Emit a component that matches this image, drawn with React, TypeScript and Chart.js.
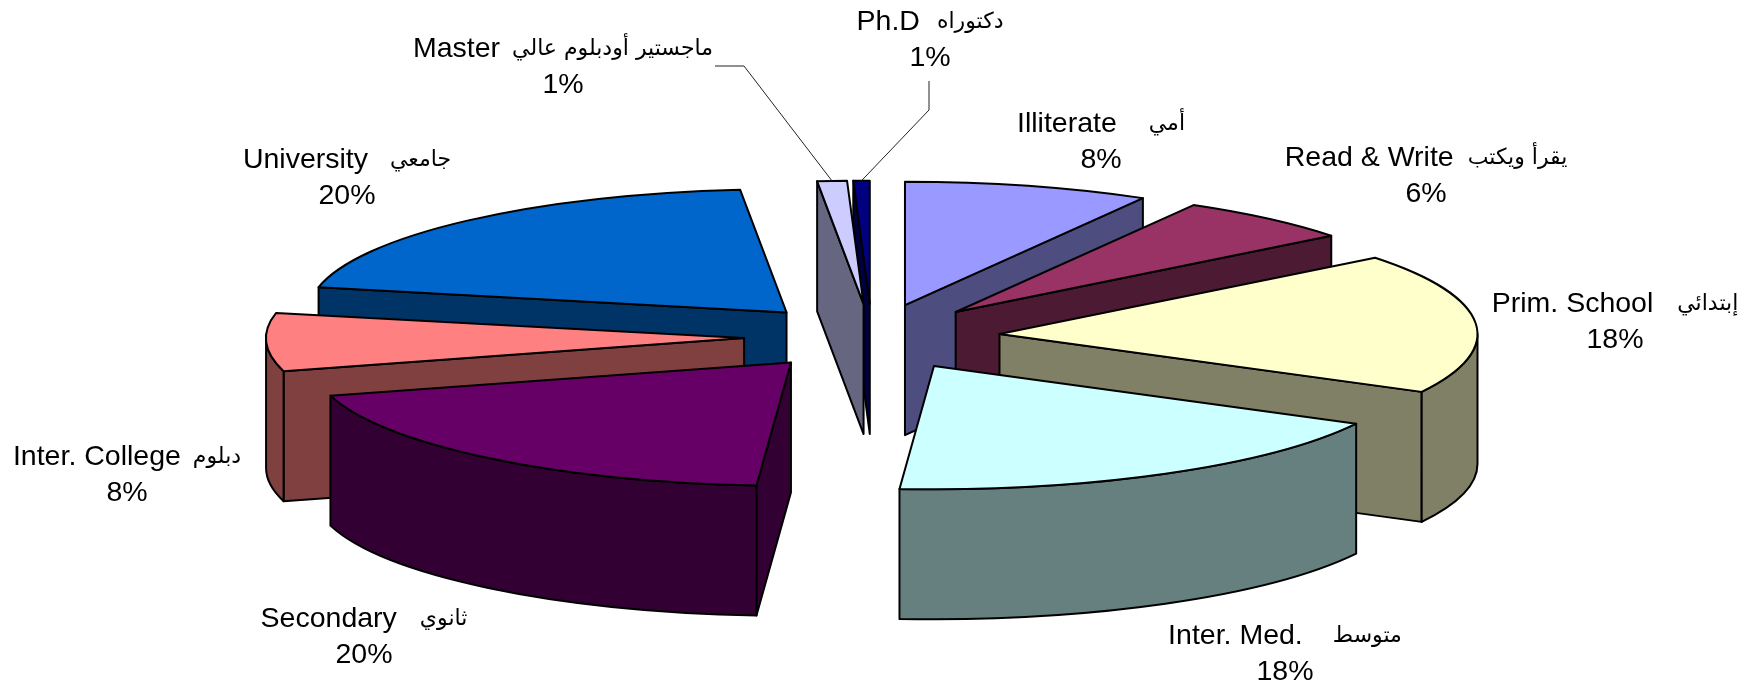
import React, { useEffect, useRef } from "react";
import { Chart, registerables } from "chart.js";

Chart.register(...registerables);

const englishLabels = ["Illiterate", "Read & Write", "Prim. School", "Inter. Med.", "Secondary", "Inter. College", "University", "Master", "Ph.D"];
const arabicLabels = ["أمي", "يقرأ ويكتب", "إبتدائي", "متوسط", "ثانوي", "دبلوم", "جامعي", "ماجستير أودبلوم عالي", "دكتوراه"];
const shareValues = [8.3, 6.1, 18.4, 18.4, 19.55, 7.6, 20.2, 1.0, 0.55];

const topColors = ["#9999FF", "#993366", "#FFFFCC", "#CCFFFF", "#660066", "#FF8080", "#0066CC", "#CCCCFF", "#000080"];
const wallColors = ["#4D4D80", "#4D1A33", "#808066", "#668080", "#330033", "#804040", "#003366", "#666680", "#000040"];
const labelCenters: [number, number][] = [
  [1101, 124], [1426, 158], [1615, 304], [1285, 636], [364, 619], [127, 457], [347, 160], [563, 49], [930, 22],
];
const labelGaps = [32, 14, 24, 30, 23, 12, 22, 12, 17];
const ENGLISH_FONT = "28.5px 'Liberation Sans', Arial, sans-serif";
const ARABIC_FONT = "22px 'DejaVu Sans', sans-serif";
const SQUASH = 0.258;
const EXPLODE = 128;
const DEPTH = 130;
const LINE_GAP = 36;

const pie3d = {
  id: "pie3d",
  beforeDatasetsDraw(chart: any) {
    const ctx: CanvasRenderingContext2D = chart.ctx;
    const arcs: any[] = chart.getDatasetMeta(0).data;
    const order = arcs
      .map((arc, i) => ({ arc, i, mid: (arc.startAngle + arc.endAngle) / 2 }))
      .sort((a, b) => Math.sin(a.mid) - Math.sin(b.mid));
    ctx.save();
    ctx.lineWidth = 2;
    ctx.strokeStyle = "#000";
    ctx.lineJoin = "round";
    for (const { arc, i, mid } of order) {
      const { x, y, startAngle: s, endAngle: e, outerRadius: r } = arc;
      const ax = x + Math.cos(mid) * EXPLODE;
      const ay = y + Math.sin(mid) * EXPLODE * SQUASH;
      const b = r * SQUASH;
      const sx = ax + Math.cos(s) * r;
      const sy = ay + Math.sin(s) * b;
      const ex = ax + Math.cos(e) * r;
      const ey = ay + Math.sin(e) * b;
      const wall = (px: number, py: number) => {
        ctx.beginPath();
        ctx.moveTo(ax, ay);
        ctx.lineTo(px, py);
        ctx.lineTo(px, py + DEPTH);
        ctx.lineTo(ax, ay + DEPTH);
        ctx.closePath();
        ctx.fillStyle = wallColors[i];
        ctx.fill();
        ctx.stroke();
      };
      if (sx < ax) wall(sx, sy);
      if (ex > ax) wall(ex, ey);
      const from = Math.max(s, 0);
      const to = Math.min(e, Math.PI);
      if (to > from) {
        ctx.beginPath();
        ctx.ellipse(ax, ay, r, b, 0, from, to);
        ctx.ellipse(ax, ay + DEPTH, r, b, 0, to, from, true);
        ctx.closePath();
        ctx.fillStyle = wallColors[i];
        ctx.fill();
        ctx.stroke();
      }
      ctx.beginPath();
      ctx.moveTo(ax, ay);
      ctx.ellipse(ax, ay, r, b, 0, s, e);
      ctx.closePath();
      ctx.fillStyle = topColors[i];
      ctx.fill();
      ctx.stroke();
    }
    ctx.restore();
    return false;
  },
  afterDraw(chart: any) {
    const ctx: CanvasRenderingContext2D = chart.ctx;
    const arcs: any[] = chart.getDatasetMeta(0).data;
    const total = shareValues.reduce((a, b) => a + b, 0);
    ctx.save();
    ctx.fillStyle = "#000";
    ctx.strokeStyle = "#222";
    ctx.textBaseline = "middle";
    englishLabels.forEach((en, i) => {
      const [cx, cy] = labelCenters[i];
      const ar = arabicLabels[i];
      ctx.font = ENGLISH_FONT;
      const enW = ctx.measureText(en).width;
      ctx.font = ARABIC_FONT;
      const arW = ctx.measureText(ar).width;
      const gap = labelGaps[i];
      const left = cx - (enW + gap + arW) / 2;
      ctx.textAlign = "left";
      ctx.font = ENGLISH_FONT;
      ctx.fillText(en, left, cy);
      ctx.font = ARABIC_FONT;
      ctx.fillText(ar, left + enW + gap, cy);
      ctx.font = ENGLISH_FONT;
      ctx.textAlign = "center";
      ctx.fillText(`${Math.max(1, Math.round((shareValues[i] / total) * 100))}%`, cx, cy + LINE_GAP);
      if (i >= 7) {
        const arc = arcs[i];
        const mid = (arc.startAngle + arc.endAngle) / 2;
        const ax = arc.x + Math.cos(mid) * EXPLODE;
        const ay = arc.y + Math.sin(mid) * EXPLODE * SQUASH;
        const tx = ax + Math.cos(mid) * arc.outerRadius;
        const ty = ay + Math.sin(mid) * arc.outerRadius * SQUASH;
        ctx.beginPath();
        ctx.lineWidth = 1;
        if (i === 7) {
          ctx.moveTo(left + enW + gap + arW + 2, cy + 17);
          ctx.lineTo(left + enW + gap + arW + 31, cy + 17);
        } else {
          ctx.moveTo(cx - 1, cy + 59);
          ctx.lineTo(cx - 1, cy + 88);
        }
        ctx.lineTo(tx, ty);
        ctx.stroke();
      }
    });
    ctx.restore();
  },
};

export default function App() {
  const ref = useRef<HTMLCanvasElement>(null);
  useEffect(() => {
    const chart = new Chart(ref.current!, {
      type: "pie",
      data: {
        labels: englishLabels.map((en, i) => `${en} ${arabicLabels[i]}`),
        datasets: [{ data: shareValues, backgroundColor: topColors }],
      },
      options: {
        animation: false,
        responsive: false,
        radius: 478,
        layout: { padding: { bottom: 12 } },
        plugins: { legend: { display: false }, tooltip: { enabled: false } },
      } as any,
      plugins: [pie3d],
    });
    return () => chart.destroy();
  }, []);
  return (
    <div style={{ position: "absolute", left: 0, top: 0, width: 1744, height: 686, background: "#fff" }}>
      <canvas ref={ref} width={1744} height={686} style={{ display: "block" }} />
    </div>
  );
}
